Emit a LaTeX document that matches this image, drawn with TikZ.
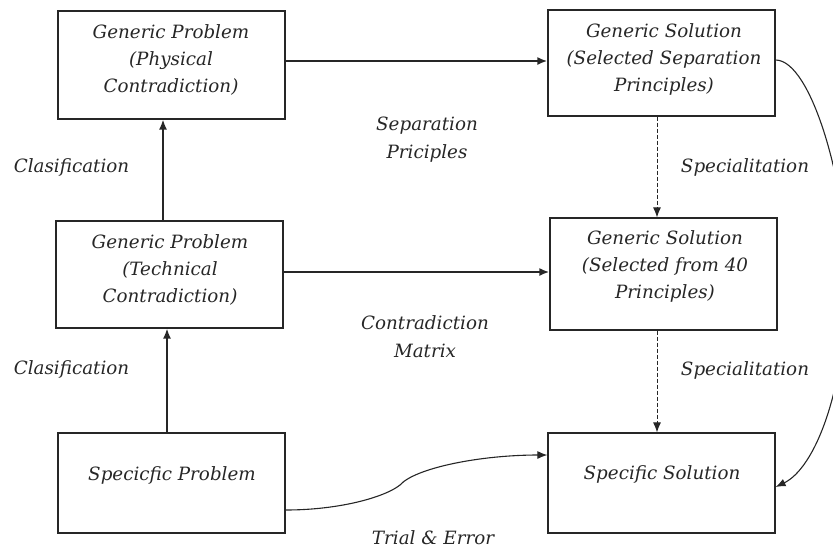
\documentclass[tikz,border=0pt]{standalone}
\usepackage{fontspec}
\setmainfont{DejaVu Serif}
\usetikzlibrary{arrows.meta,calc}
\begin{document}
\begin{tikzpicture}[x=1pt,y=-1pt,
  boxshape/.style={draw=black!85,line width=1.2pt,minimum width=227pt,inner sep=0pt},
  boxtext/.style={align=center,font=\fontsize{18.3}{27}\selectfont\itshape,text=black!85,inner sep=0pt},
  lbl/.style={align=center,font=\fontsize{18.3}{28}\selectfont\itshape,text=black!85,inner sep=0pt},
  arr/.style={-{Latex[length=10pt,width=8pt]},black!85},
]
\useasboundingbox (0,0) rectangle (833,550);
% boxes
\node[boxshape,minimum height=108pt] (A) at (171.5,65) {};
\node[boxshape,minimum height=107pt] (B) at (169.5,274.5) {};
\node[boxshape,minimum height=100pt] (C) at (171.5,483) {};
\node[boxshape,minimum height=106pt] (D) at (661.5,63) {};
\node[boxshape,minimum height=112pt] (E) at (663.5,274) {};
\node[boxshape,minimum height=100pt] (F) at (661.5,483) {};
% box texts
\node[boxtext] (At) at (171,60) {Generic Problem\\(Physical\\Contradiction)};
\node[boxtext] (Bt) at (170,270) {Generic Problem\\(Technical\\Contradiction)};
\node[boxtext] (Ct) at (172,475) {Specicfic Problem};
\node[boxtext] (Dt) at (664,59) {Generic Solution\\(Selected Separation\\Principles)};
\node[boxtext] (Et) at (665,266) {Generic Solution\\(Selected from 40\\Principles)};
\node[boxtext] (Ft) at (662,474) {Specific Solution};
% labels
\node[lbl] (L1) at (71.5,167) {Clasification};
\node[lbl] (L2) at (71.5,369) {Clasification};
\node[lbl] (L3) at (427,140) {Separation\\Priciples};
\node[lbl] (L4) at (425,337) {Contradiction\\Matrix};
\node[lbl] (L5) at (745,167) {Specialitation};
\node[lbl] (L6) at (745,370) {Specialitation};
\node[lbl] (L7) at (433,538) {Trial \& Error};
% connectors
\draw[arr,line width=2pt] (A.east |- 0,61) -- (D.west |- 0,61);
\draw[arr,line width=2pt] (B.east |- 0,272) -- (E.west |- 0,272);
\draw[arr,line width=1.6pt] (B.north -| 163,0) -- (A.south -| 163,0);
\draw[arr,line width=1.6pt] (C.north -| 167,0) -- (B.south -| 167,0);
\draw[arr,line width=1pt,dashed,dash pattern=on 4pt off 2pt] (D.south -| 657,0) -- (E.north -| 657,0);
\draw[arr,line width=1pt,dashed,dash pattern=on 4pt off 2pt] (E.south -| 657,0) -- (F.north -| 657,0);
\coordinate (c1) at (C.east |- 0,510);
\coordinate (f1) at (F.west |- 0,455);
\draw[arr,line width=1.1pt] (c1) .. controls (340,510) and (385,497) .. (400,485)
   .. controls (415,468) and (480,455) .. (f1);
\coordinate (d1) at (D.east |- 0,60);
\coordinate (f2) at (F.east |- 0,487);
\draw[arr,line width=1.1pt] (d1) .. controls (812,60) and (848,190) .. (847,280)
   .. controls (846,390) and (815,468) .. (f2);
\end{tikzpicture}
\end{document}
